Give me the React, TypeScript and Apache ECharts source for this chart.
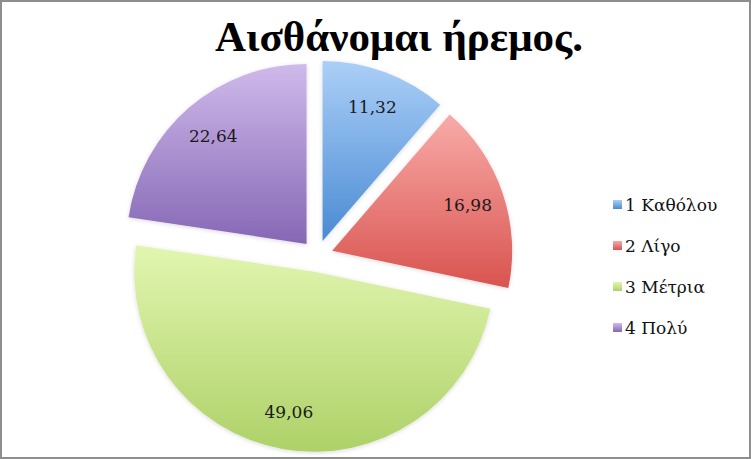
import { useEffect, useRef } from 'react'
import * as echarts from 'echarts'

// 数据：类别、百分比、每个扇区的渐变上下色
const categories = ['1 Καθόλου', '2 Λίγο', '3 Μέτρια', '4 Πολύ']
const values = [11.32, 16.98, 49.06, 22.64]
const topColors = ['#abcff7', '#f8aba8', '#e2f6b0', '#cfbaeb']
const bottomColors = ['#4a8bd3', '#d9534f', '#aed168', '#8667b5']

const TITLE = 'Αισθάνομαι ήρεμος.'
const TITLE_FONT = '"Liberation Serif", serif'
const FONT = '"DejaVu Serif", serif'

const grad = (i: number) => ({
  type: 'linear',
  x: 0,
  y: 0,
  x2: 0,
  y2: 1,
  colorStops: [
    { offset: 0, color: topColors[i] },
    { offset: 1, color: bottomColors[i] },
  ],
})

export default function App() {
  const elRef = useRef<HTMLDivElement>(null)

  useEffect(() => {
    document.body.style.margin = '0'
    if (!elRef.current) return
    const chart = echarts.init(elRef.current, undefined, { renderer: 'svg' })
    const center = [317, 256]
    // 所有扇区都分离出来（Excel 的爆炸饼图）
    const offset = 16
    chart.setOption({
      animation: false,
      backgroundColor: '#ffffff',
      legend: {
        orient: 'vertical',
        left: 608,
        top: 191,
        itemGap: 24,
        itemWidth: 9,
        itemHeight: 9,
        icon: 'rect',
        data: categories,
        textStyle: { fontFamily: FONT, fontSize: 17, color: '#111', padding: [0, 0, 0, -2] },
      },
      graphic: [
        {
          type: 'text',
          x: 399,
          y: 15,
          style: {
            text: TITLE,
            textAlign: 'center',
            fontFamily: TITLE_FONT,
            fontWeight: 'bold',
            fontSize: 43,
            fill: '#000',
          },
        },
        {
          type: 'rect',
          shape: { x: 1, y: 1, width: 749, height: 457 },
          style: { fill: 'none', stroke: '#8e8e8e', lineWidth: 2 },
          z: 100,
        },
      ],
      series: [
        {
          type: 'pie',
          center,
          radius: [0, 180],
          startAngle: 90,
          selectedMode: 'multiple',
          selectedOffset: offset,
          label: { show: false },
          labelLine: { show: false },
          emphasis: { disabled: true },
          data: categories.map((name, i) => ({
            name,
            value: values[i],
            selected: true,
            itemStyle: {
              color: grad(i),
              shadowBlur: 4,
              shadowColor: 'rgba(0,0,0,0.15)',
              shadowOffsetY: 1,
            },
          })),
        },
        // 只用来放数值标签的透明环：中半径≈0.78r，贴近原图标签位置
        {
          type: 'pie',
          center,
          radius: [100, 180],
          startAngle: 90,
          silent: true,
          selectedMode: 'multiple',
          selectedOffset: offset,
          itemStyle: { color: 'rgba(0,0,0,0)' },
          labelLine: { show: false },
          label: {
            show: true,
            position: 'inside',
            fontFamily: FONT,
            fontSize: 17,
            color: '#1a1a1a',
            formatter: (p: { value: number }) => p.value.toFixed(2).replace('.', ','),
          },
          data: categories.map((name, i) => ({ name, value: values[i], selected: true })),
        },
      ],
    })
    return () => chart.dispose()
  }, [])

  return <div ref={elRef} style={{ width: 751, height: 459 }} />
}
